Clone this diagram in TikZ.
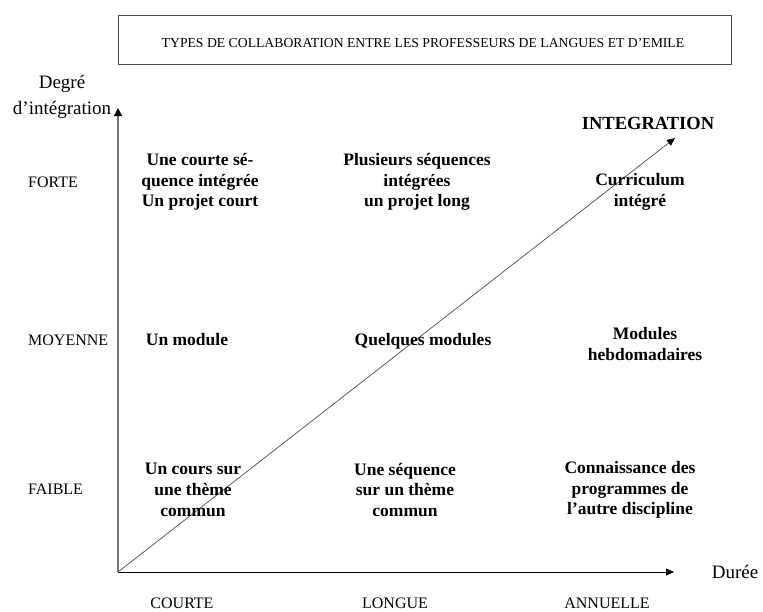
\documentclass[tikz,border=0pt]{standalone}
\usepackage{fontspec}
\setmainfont{Liberation Serif}
\usetikzlibrary{positioning,arrows.meta}

\begin{document}
\begin{tikzpicture}[x=1pt,y=-1pt,
	cell/.style={font=\fontsize{17.5}{20.7}\selectfont\bfseries,align=center,inner sep=0pt},
	level/.style={font=\fontsize{16}{18}\selectfont,inner sep=0pt},
	axis/.style={-{Triangle[length=8pt,width=7pt,color=black]},line width=0.8pt}
	]
	\useasboundingbox (0,0) rectangle (763,611);

	% the title
	\draw [draw=black!70,line width=1pt] (118,15) rectangle (731,64);
	\node [font=\fontsize{13.7}{15}\selectfont,inner sep=0pt] (title) at (423,43)
		{TYPES DE COLLABORATION ENTRE LES PROFESSEURS DE LANGUES ET D'EMILE};

	% the axes
	\coordinate (O) at (118,572);
	\coordinate (ytip) at (118,108);
	\coordinate (xtip) at (674,572);
	\coordinate (dtip) at (675,138);
	\draw [axis,draw=gray!90!black,line width=1.3pt,-{Triangle[length=8pt,width=8pt,color=black]}] (O) -- (ytip);
	\draw [axis] (O) -- (xtip);
	\draw [axis,draw=black!70,line width=0.7pt] (O) -- (dtip);

	\node [font=\fontsize{19}{26}\selectfont,align=center,inner sep=0pt,anchor=base] (ylab) at (62,114) {Degré\\d'intégration};
	\node [font=\fontsize{19}{22}\selectfont,inner sep=0pt] (xlab) at (735,572) {Durée};
	\node [cell,font=\fontsize{18.5}{20}\selectfont\bfseries] (integ) at (648,123) {INTEGRATION};

	% the levels
	\node [level,anchor=west] (forte) at (28,182) {FORTE};
	\node [level,anchor=west] (moyenne) at (28,340) {MOYENNE};
	\node [level,anchor=west] (faible) at (28,489) {FAIBLE};

	% the durations
	\node [level] (courte) at (182,603) {COURTE};
	\node [level] (longue) at (395,603) {LONGUE};
	\node [level] (annuelle) at (607,603) {ANNUELLE};

	% the cells
	\node [cell] (c11) at (200,182) {Une courte sé-\\quence intégrée\\Un projet court};
	\node [cell] (c12) at (417,182) {Plusieurs séquences\\intégrées\\un projet long};
	\node [cell] (c13) at (640,192) {Curriculum\\intégré};
	\node [cell] (c21) at (187,340) {Un module};
	\node [cell] (c22) at (423,341) {Quelques modules};
	\node [cell] (c23) at (645,344) {Modules\\hebdomadaires};
	\node [cell] (c31) at (193,490) {Un cours sur\\une thème\\commun};
	\node [cell] (c32) at (405,490) {Une séquence\\sur un thème\\commun};
	\node [cell] (c33) at (630,490) {Connaissance des\\programmes de\\l'autre discipline};
\end{tikzpicture}
\end{document}
